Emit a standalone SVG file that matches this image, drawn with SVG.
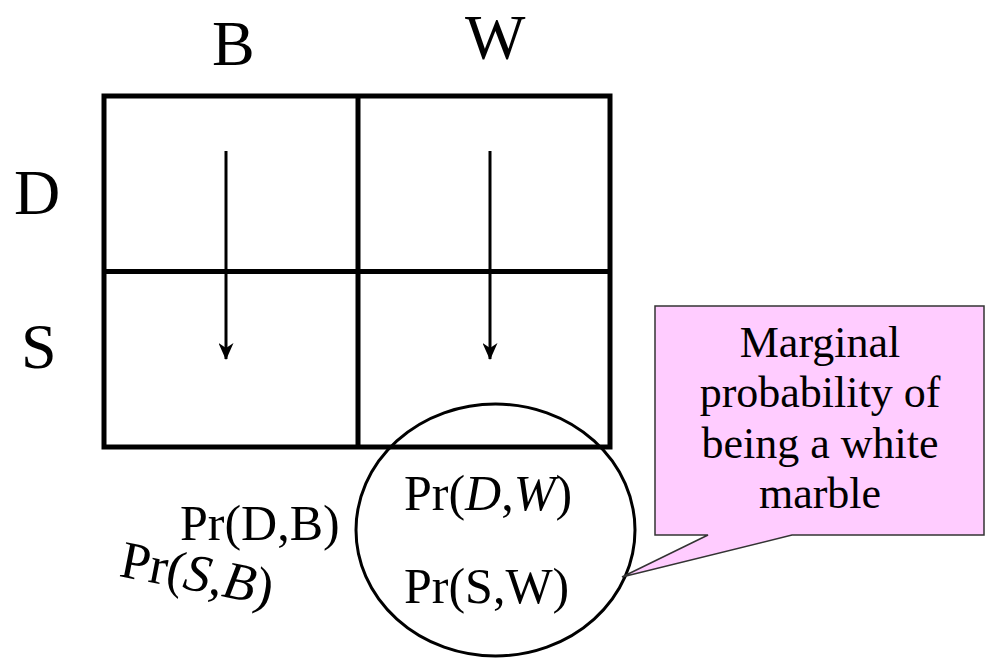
<svg xmlns="http://www.w3.org/2000/svg" width="985" height="658" viewBox="0 0 985 658">
  <style>
    .t { font-family: "Liberation Serif", "Times New Roman", serif; fill: #000; }
    .hdr { font-size: 64px; }
    .pr { font-size: 50px; }
    .pr-tilt { font-size: 53px; }
    .it { font-style: italic; }
    .call { font-size: 44px; text-anchor: middle; }
    .grid { fill: none; stroke: #000; stroke-width: 5; }
    .flow { stroke: #000; stroke-width: 3; fill: none; }
  </style>
  <defs>
    <!-- notched arrowhead, drawn along +x so orient="auto" points it down the line -->
    <marker id="arrowhead" viewBox="0 0 17 15" refX="16" refY="7.5" markerWidth="17" markerHeight="15" markerUnits="userSpaceOnUse" orient="auto">
      <path d="M0,0 L17,7.5 L0,15 L5,7.5 Z" fill="#000"/>
    </marker>
  </defs>

  <!-- column and row headers -->
  <g id="header-B"><text class="t hdr" x="212" y="65">B</text></g>
  <g id="header-W"><text class="t hdr" x="465" y="59">W</text></g>
  <g id="header-D"><text class="t hdr" x="14" y="214">D</text></g>
  <g id="header-S"><text class="t hdr" x="21" y="368">S</text></g>

  <!-- 2x2 table -->
  <g id="table">
    <rect class="grid" x="104" y="96" width="506" height="351"/>
    <line class="grid" x1="358" y1="96" x2="358" y2="447"/>
    <line class="grid" x1="104" y1="271.5" x2="610" y2="271.5"/>
  </g>

  <!-- downward arrows through each column -->
  <g id="connectors">
    <line class="flow" x1="226" y1="151" x2="226" y2="359" marker-end="url(#arrowhead)"/>
    <line class="flow" x1="490" y1="151" x2="490" y2="359" marker-end="url(#arrowhead)"/>
  </g>

  <!-- black column terms -->
  <g id="label-DB"><text class="t pr" x="180" y="540">Pr(D,B)</text></g>
  <g id="label-SB"><text class="t pr-tilt" transform="translate(118,576) rotate(11)">Pr(<tspan class="it">S</tspan>,<tspan class="it">B</tspan>)</text></g>

  <!-- white column terms, circled -->
  <g id="marginal-W">
    <ellipse cx="495.5" cy="530" rx="139.5" ry="126" fill="none" stroke="#000" stroke-width="3"/>
    <text class="t pr" x="404" y="510">Pr(<tspan class="it">D</tspan>,<tspan class="it">W</tspan>)</text>
    <text class="t pr" x="404" y="603">Pr(S,W)</text>
  </g>

  <!-- callout -->
  <g id="callout">
    <path d="M655,306 L984,306 L984,535 L792,535 L622,577 L708,535 L655,535 Z" fill="#FFCCFF" stroke="#333" stroke-width="1.5"/>
    <text class="t call" x="820" y="357">Marginal</text>
    <text class="t call" x="820" y="407">probability of</text>
    <text class="t call" x="820" y="458">being a white</text>
    <text class="t call" x="820" y="508">marble</text>
  </g>
</svg>
